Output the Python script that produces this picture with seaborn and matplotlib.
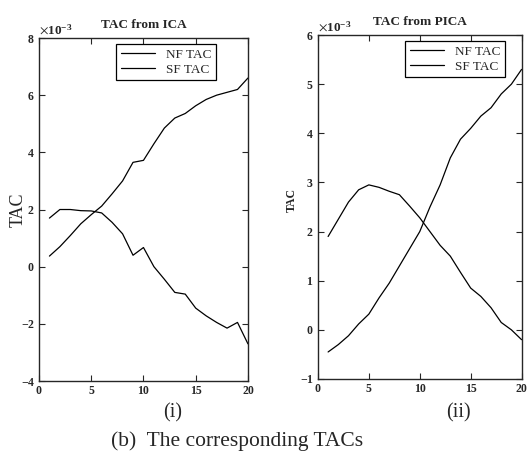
import matplotlib
matplotlib.use("Agg")
import matplotlib.pyplot as plt
from matplotlib.ticker import ScalarFormatter
import numpy as np
import pandas as pd
import seaborn as sns

# frame index and TAC values (in units of 1e-3)
frames = list(range(1, 21))
ica_nf = [1.7, 2.0, 2.0, 1.96, 1.95, 1.88, 1.55, 1.15, 0.4, 0.67,
          0.0, -0.44, -0.9, -0.96, -1.45, -1.72, -1.95, -2.15, -1.95, -2.7]
ica_sf = [0.37, 0.7, 1.09, 1.5, 1.82, 2.12, 2.55, 3.0, 3.65, 3.72,
          4.3, 4.85, 5.2, 5.36, 5.63, 5.85, 6.0, 6.1, 6.2, 6.6]
pica_nf = [1.9, 2.25, 2.6, 2.85, 2.95, 2.9, 2.82, 2.75, 2.52, 2.28,
           2.0, 1.72, 1.5, 1.17, 0.85, 0.68, 0.45, 0.15, 0.0, -0.2]
pica_sf = [-0.45, -0.3, -0.12, 0.12, 0.32, 0.65, 0.95, 1.3, 1.65, 2.0,
           2.5, 2.95, 3.5, 3.88, 4.1, 4.35, 4.52, 4.8, 5.0, 5.3]
curve_names = ["NF TAC", "SF TAC"]
x_ticks = [0, 5, 10, 15, 20]


def draw_panel(ax, nf, sf, title, ylim, yticks, leg_x):
    df = pd.DataFrame({
        "frame": frames * 2,
        "TAC": np.array(nf + sf) * 1e-3,
        "curve": [curve_names[0]] * len(nf) + [curve_names[1]] * len(sf),
    })
    sns.lineplot(data=df, x="frame", y="TAC", hue="curve",
                 palette=["black", "black"], linewidth=0.9, ax=ax)
    ax.set_xlim(0, 20)
    ax.set_ylim(ylim[0] * 1e-3, ylim[1] * 1e-3)
    ax.set_xticks(x_ticks)
    ax.set_yticks(np.array(yticks) * 1e-3)
    fmt = ScalarFormatter(useMathText=True)
    fmt.set_powerlimits((-2, 2))
    ax.yaxis.set_major_formatter(fmt)
    ax.yaxis.get_offset_text().set_fontsize(9.5)
    ax.yaxis.get_offset_text().set_fontweight("bold")
    ax.tick_params(direction="in", top=True, right=True, length=4,
                   width=0.8, labelsize=8.5, pad=3)
    for lab in ax.get_xticklabels() + ax.get_yticklabels():
        lab.set_fontweight("bold")
    for s in ax.spines.values():
        s.set_linewidth(1.0)
        s.set_visible(True)
    ax.set_xlabel("")
    ax.set_title(title, fontsize=9.5, fontweight="bold", pad=7)
    leg = ax.legend(loc="upper right", bbox_to_anchor=(leg_x, 0.99),
                    fontsize=9.5, frameon=True, fancybox=False,
                    edgecolor="black", framealpha=1, borderpad=0.35,
                    handlelength=2.6, handletextpad=0.8, labelspacing=0.2,
                    borderaxespad=0.2)
    leg.get_frame().set_linewidth(0.9)


sns.set_style("ticks")
plt.rcParams["font.family"] = ["Liberation Serif", "DejaVu Serif"]
plt.rcParams["mathtext.fontset"] = "stix"

fig = plt.figure(figsize=(5.29, 4.57), dpi=100)
ax1 = fig.add_axes([0.0737, 0.1663, 0.395, 0.7505])
ax2 = fig.add_axes([0.601, 0.1707, 0.385, 0.7527])

draw_panel(ax1, ica_nf, ica_sf, "TAC from ICA", (-4, 8),
           [-4, -2, 0, 2, 4, 6, 8], 0.86)
draw_panel(ax2, pica_nf, pica_sf, "TAC from PICA", (-1, 6),
           [-1, 0, 1, 2, 3, 4, 5, 6], 0.93)

ax1.set_ylabel("TAC", fontsize=13)
ax1.yaxis.set_label_coords(-0.06, 0.5)
ax2.set_ylabel("TAC", fontsize=8.5, fontweight="bold")
ax2.yaxis.set_label_coords(-0.1, 0.52)

fig.text(0.327, 0.096, "(i)", fontsize=14.5, ha="center", va="center")
fig.text(0.866, 0.096, "(ii)", fontsize=14.5, ha="center", va="center")
fig.text(0.448, 0.035, "(b)  The corresponding TACs", fontsize=15.5,
         ha="center", va="center")

fig.savefig("out.png", dpi=100)
